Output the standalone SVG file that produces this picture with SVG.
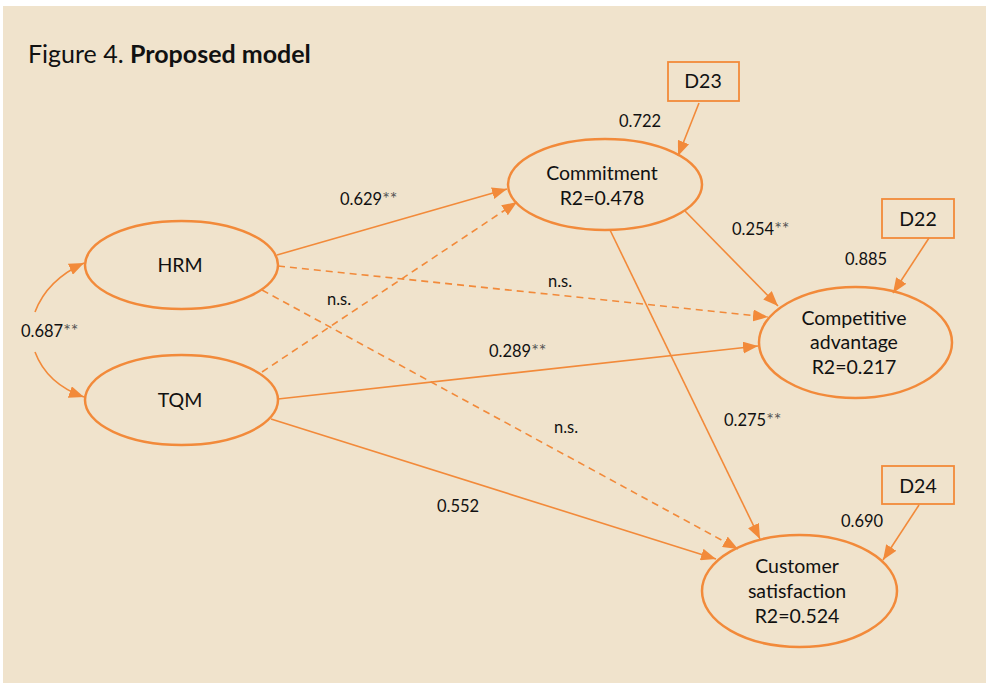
<svg xmlns="http://www.w3.org/2000/svg" width="986" height="683" viewBox="0 0 986 683">
<defs>
<marker id="ah" markerUnits="userSpaceOnUse" markerWidth="16" markerHeight="12" refX="15" refY="6" orient="auto">
<path d="M0,0 L15,6 L0,12 Z" fill="#F28A3A"/>
</marker>
<style>
.node{fill:none;stroke:#F28A3A;stroke-width:2.5}
.box{fill:none;stroke:#F28A3A;stroke-width:1.8}
.c{fill:none;stroke:#F28A3A;stroke-width:1.6;marker-end:url(#ah)}
.d{stroke-dasharray:7 5}
text{font-family:Lato,"Open Sans","Liberation Sans",sans-serif;fill:#111}
.nt{font-size:19.5px;text-anchor:middle}
.lb{font-size:16.5px}
.st{fill:#555;font-size:18px}
</style>
</defs>
<rect x="0" y="0" width="986" height="683" fill="#ffffff"/>
<rect x="3" y="6" width="983" height="677" fill="#F0E3CC"/>
<text x="28" y="63" font-size="25px"><tspan>Figure 4. </tspan><tspan font-weight="bold">Proposed model</tspan></text>

<g id="connectors">
<path class="c" d="M277,255 L507,189"/>
<path class="c d" d="M262,372 L517,202"/>
<path class="c d" d="M278,266 L768,317"/>
<path class="c" d="M278,399 L758,346"/>
<path class="c d" d="M262,290 L738,549"/>
<path class="c" d="M271,419 L716,559"/>
<path class="c" d="M685,211 L778,306"/>
<path class="c" d="M610,230 L760,539"/>
<path class="c" d="M699,103 L678,156"/>
<path class="c" d="M929,238 L893,293"/>
<path class="c" d="M919,505 L883,560"/>
<path class="c" d="M35,312 Q47,280 84,263"/>
<path class="c" d="M35,352 Q47,384 84,397"/>
</g>

<g id="labels">
<text class="lb" x="340" y="205">0.629<tspan class="st">**</tspan></text>
<text class="lb" x="327" y="305">n.s.</text>
<text class="lb" x="548" y="287">n.s.</text>
<text class="lb" x="489" y="357">0.289<tspan class="st">**</tspan></text>
<text class="lb" x="554" y="433">n.s.</text>
<text class="lb" x="437" y="512">0.552</text>
<text class="lb" x="724" y="426">0.275<tspan class="st">**</tspan></text>
<text class="lb" x="732" y="235">0.254<tspan class="st">**</tspan></text>
<text class="lb" x="21" y="337">0.687<tspan class="st">**</tspan></text>
<text class="lb" x="619" y="127">0.722</text>
<text class="lb" x="845" y="265">0.885</text>
<text class="lb" x="841" y="527">0.690</text>
</g>

<g id="hrm">
<ellipse class="node" cx="181.5" cy="265" rx="96.5" ry="44"/>
<text class="nt" x="180" y="272">HRM</text>
</g>
<g id="tqm">
<ellipse class="node" cx="181.5" cy="400" rx="96.5" ry="45"/>
<text class="nt" x="180" y="407">TQM</text>
</g>
<g id="commitment">
<ellipse class="node" cx="605" cy="184.5" rx="97" ry="45.5"/>
<text class="nt" x="602" y="180">Commitment</text>
<text class="nt" x="602" y="205">R2=0.478</text>
</g>
<g id="competitive">
<ellipse class="node" cx="855.5" cy="342.5" rx="96.5" ry="55.5"/>
<text class="nt" x="854" y="325">Competitive</text>
<text class="nt" x="854" y="349">advantage</text>
<text class="nt" x="854" y="374">R2=0.217</text>
</g>
<g id="customer">
<ellipse class="node" cx="799.5" cy="591" rx="97.5" ry="56"/>
<text class="nt" x="797" y="573">Customer</text>
<text class="nt" x="797" y="598">satisfaction</text>
<text class="nt" x="797" y="623">R2=0.524</text>
</g>
<g id="d23">
<rect class="box" x="668" y="62" width="71" height="39"/>
<text class="nt" x="703" y="88">D23</text>
</g>
<g id="d22">
<rect class="box" x="882" y="199" width="72" height="39"/>
<text class="nt" x="918" y="226">D22</text>
</g>
<g id="d24">
<rect class="box" x="882" y="466" width="72" height="38"/>
<text class="nt" x="918" y="493">D24</text>
</g>
</svg>
